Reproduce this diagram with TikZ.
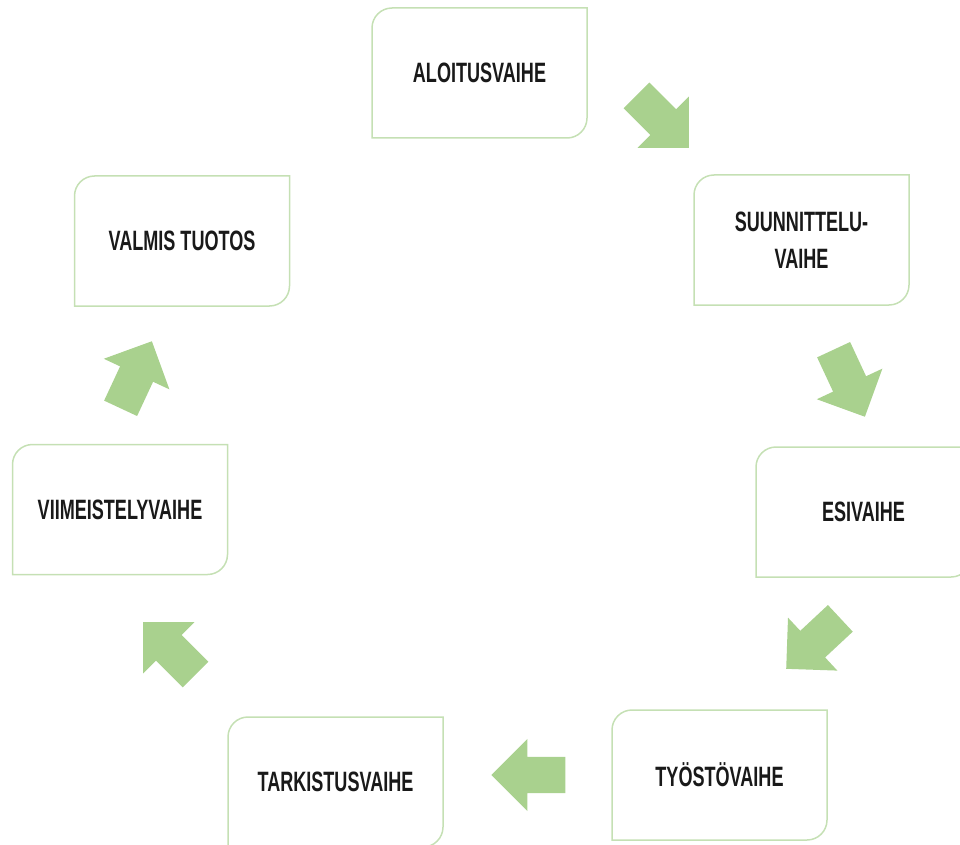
\documentclass[tikz,border=0pt]{standalone}
\usepackage{fontspec}
\usetikzlibrary{shapes.arrows}
\newfontfamily\phasefont[FakeStretch=0.645]{Liberation Sans}
\definecolor{phaseline}{HTML}{C5E0B4}
\definecolor{phasearrow}{HTML}{A9D18E}

\begin{document}
\begin{tikzpicture}[x=1pt,y=1pt,
  phase/.style={minimum width=215pt,minimum height=130pt,inner sep=0pt,outer sep=0pt,align=center,
    font=\phasefont\bfseries\fontsize{28}{37}\selectfont,text=black!90},
  outline/.style={draw=phaseline,line width=1.5pt},
  blockarrow/.style={single arrow,fill=phasearrow,draw=none,inner xsep=0pt,inner ysep=18pt,
    minimum width=72pt,minimum height=74pt,single arrow head extend=18pt,anchor=tip}]
\useasboundingbox (0,0) rectangle (960,-845);
\node[phase] (aloitus) at (479.5,-73) {ALOITUSVAIHE};
\node[phase] (suunnittelu) at (801.5,-240) {SUUNNITTELU-\\VAIHE};
\node[phase] (esivaihe) at (863.5,-512) {ESIVAIHE};
\node[phase] (tyosto) at (719.5,-775) {TYÖSTÖVAIHE};
\node[phase] (tarkistus) at (335.5,-782) {TARKISTUSVAIHE};
\node[phase] (viimeistely) at (120,-509.5) {VIIMEISTELYVAIHE};
\node[phase] (valmis) at (182,-241) {VALMIS TUOTOS};
\foreach \n in {aloitus,suunnittelu,esivaihe,tyosto,tarkistus,viimeistely,valmis}
  \draw[outline] (\n.north east) -- ([yshift=20pt]\n.south east) arc[start angle=0,end angle=-90,radius=20pt]
    -- (\n.south west) -- ([yshift=-20pt]\n.north west) arc[start angle=180,end angle=90,radius=20pt] -- cycle;
\node[blockarrow,rotate=-45] (a1) at (689,-148) {};
\node[blockarrow,rotate=-65] (a2) at (865,-417) {};
\node[blockarrow,rotate=-137] (a3) at (786,-669) {};
\node[blockarrow,rotate=180] (a4) at (491,-775) {};
\node[blockarrow,rotate=135] (a5) at (143,-622) {};
\node[blockarrow,rotate=65] (a6) at (152,-341) {};
\end{tikzpicture}
\end{document}
